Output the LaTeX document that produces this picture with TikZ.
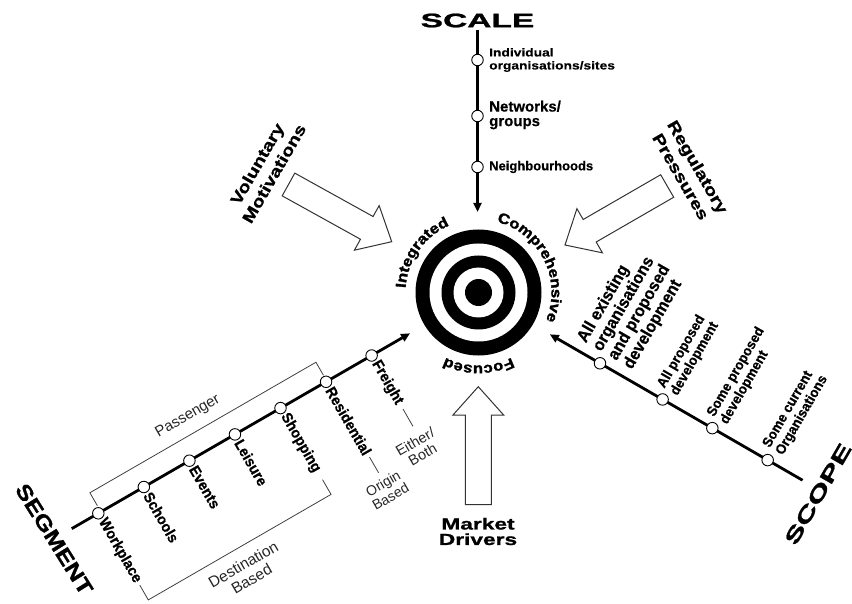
\documentclass[tikz,border=0pt]{standalone}
\usepackage{fontspec}
\setmainfont{Liberation Sans}
\newfontfamily\fScale[FakeStretch=1.72,FakeBold=1.2]{Liberation Sans}
\newfontfamily\fScope[FakeStretch=1.62,FakeBold=1.2]{Liberation Sans}
\newfontfamily\fSeg[FakeStretch=1.22,FakeBold=1.2]{Liberation Sans}
\newfontfamily\fMkt[FakeStretch=1.42,FakeBold=1.2]{Liberation Sans}
\newfontfamily\fForce[FakeStretch=1.25,FakeBold=1]{Liberation Sans}
\newfontfamily\fArc[FakeStretch=1.15,FakeBold=1.8]{Liberation Sans}
\newfontfamily\fSmall[FakeStretch=1.2,FakeBold=0.5]{Liberation Sans}
\newfontfamily\fMid[FakeBold=0.5]{Liberation Sans}
\newfontfamily\fLbl[FakeStretch=0.95,FakeBold=0.7]{Liberation Sans}
\usetikzlibrary{calc,decorations.text,arrows.meta}
\newcommand\fs[2]{\fontsize{#1}{#2}\selectfont}
\tikzset{
  axis/.style={line width=2.8, -{Triangle[length=9,width=8]}},
  dot/.style={circle, draw, fill=white, line width=0.9, inner sep=0, minimum size=11.5},
  brk/.style={line width=0.8, draw=black!75},
  harrow/.style={draw=black!80, line width=1, fill=white, line join=miter},
  lbl/.style={font=\fLbl\bfseries\fs{15}{16}, inner sep=1},
  slbl/.style={font=\fLbl\bfseries\fs{14}{15}, inner sep=1, align=left},
  note/.style={font=\fs{15.5}{16.5}, text=black!85, align=center},
  ring/.style={circle, inner sep=0},
}
\newcommand\hollowarrow[2]{%
  \begin{scope}[shift={#1}, rotate=#2]
    \draw[harrow] (0,0) -- (-28.5,25.5) -- (-28.5,13) -- (-118,13) -- (-118,-13) -- (-28.5,-13) -- (-28.5,-25.5) -- cycle;
  \end{scope}}
\begin{document}
\begin{tikzpicture}[x=1pt,y=1pt]
\useasboundingbox (0,0) rectangle (852,-604);
% ---------- target ----------
\coordinate (T) at (478.5,-292.5);
\node[ring, fill=black, minimum size=126] (ring1) at (T) {};
\node[ring, fill=white, minimum size=98] (ring2) at (T) {};
\node[ring, fill=black, minimum size=74] (ring3) at (T) {};
\node[ring, fill=white, minimum size=50] (ring4) at (T) {};
\node[ring, fill=black, minimum size=27] (bull) at (T) {};
\path[decorate, decoration={text along path, text align=center,
  text={|\fArc\bfseries\fs{14.5}{14.5}|Integrated}}]
  ($(T)+(200:73)$) arc[start angle=200, end angle=90, radius=73];
\path[decorate, decoration={text along path, text align=center,
  text={|\fArc\bfseries\fs{14.5}{14.5}|Comprehensive}}]
  ($(T)+(90:73)$) arc[start angle=90, end angle=-37, radius=73];
\path[decorate, decoration={text along path, text align=center,
  text={|\fArc\bfseries\fs{14.5}{14.5}|Focused}}]
  ($(T)+(330:73)$) arc[start angle=330, end angle=210, radius=73];
% ---------- scale axis ----------
\coordinate (scTop) at (477.5,-30);
\coordinate (scTip) at (477.5,-212);
\draw[axis] (scTop) -- (scTip);
\foreach \n/\y in {1/60,2/116,3/167} \node[dot] (sc\n) at (477.5,-\y) {};
\node[font=\fScale\bfseries\fs{19.5}{20}, inner sep=0] (scale) at (477.5,-20.5) {SCALE};
\node[anchor=west, align=left, inner sep=1, font=\fSmall\bfseries\fs{11.5}{13}] (lInd) at (488,-60) {Individual\\organisations/sites};
\node[anchor=west, align=left, inner sep=1, font=\fMid\bfseries\fs{15}{14.5}] (lNet) at (488,-115) {Networks/\\groups};
\node[anchor=west, align=left, inner sep=1, font=\fMid\bfseries\fs{13}{14}] (lNei) at (488,-167) {Neighbourhoods};
% ---------- segment axis ----------
\coordinate (sgW) at (98.3,-513.3);
\coordinate (sgS) at ($(sgW)+(210:30.7)$);
\coordinate (sgT) at ($(sgW)+(30:360)$);
\draw[axis] (sgS) -- (sgT);
\foreach \k/\t in {0/Workplace,1/Schools,2/Events,3/Leisure,4/Shopping,5/Residential,6/Freight} {
  \node[dot] (sg\k) at ($(sgW)+(30:{52.6*\k})$) {};
  \node[lbl, rotate=-60, anchor=west] (sgl\k) at ($(sg\k)+(-60:6)$) {\t};
}
\draw[brk] ($(sgW)+(30:3)+(120:7)$) -- ($(sgW)+(30:3)+(120:22)$) -- ($(sgW)+(30:264)+(120:22)$) -- ($(sgW)+(30:264)+(120:7)$);
\node[note, rotate=30, font=\fs{15}{16}] (pass) at ($(sgW)+(30:126)+(120:39)$) {Passenger};
\draw[brk] ($(sgW)+(30:0)+(120:-83)$) -- ($(sgW)+(30:0)+(120:-100)$) -- ($(sgW)+(30:211)+(120:-100)$) -- ($(sgW)+(30:211)+(120:-83)$);
\node[note, rotate=30] (dest) at ($(sgW)+(30:100)+(120:-125)$) {Destination\\Based};
\draw[brk] ($(sgW)+(30:263)+(120:-87)$) -- ($(sgW)+(30:263)+(120:-105)$);
\node[note, rotate=30, font=\fs{14}{15}] (orig) at ($(sgW)+(30:261.5)+(120:-124)$) {Origin\\Based};
\draw[brk] ($(sgW)+(30:316)+(120:-62)$) -- ($(sgW)+(30:316)+(120:-82)$);
\node[note, rotate=30, font=\fs{14.5}{15}] (eith) at ($(sgW)+(30:310)+(120:-104)$) {Either/\\Both};
\node[font=\fSeg\bfseries\fs{21}{21}, rotate=-58, inner sep=0] (segment) at (54.2,-539.2) {SEGMENT};
% ---------- scope axis ----------
\coordinate (spC) at (600,-363.3);
\coordinate (spEnd) at ($(spC)+(-30:233.9)$);
\coordinate (spTip) at ($(spC)+(150:58)$);
\draw[axis] (spEnd) -- (spTip);
\foreach \k/\a in {1/0,2/72.3,3/129.7,4/193.6} \node[dot] (sp\k) at ($(spC)+(-30:\a)$) {};
\node[slbl, rotate=60, anchor=west, font=\fLbl\bfseries\fs{17}{17.7}] (spl1) at ($(sp1)+(60:9)$) {All existing\\organisations\\and proposed\\development};
\node[slbl, rotate=60, anchor=west] (spl2) at ($(sp2)+(60:9)$) {All proposed\\development};
\node[slbl, rotate=60, anchor=west] (spl3) at ($(sp3)+(60:9)$) {Some proposed\\development};
\node[slbl, rotate=60, anchor=west] (spl4) at ($(sp4)+(60:10)$) {Some current\\Organisations};
\node[font=\fScope\bfseries\fs{20}{20}, rotate=60, inner sep=0] (scope) at (818,-494) {SCOPE};
% ---------- forces ----------
\coordinate (volTip) at (391.7,-241.7);
\coordinate (regTip) at (565,-245);
\coordinate (mktTip) at (478.3,-386.7);
\hollowarrow{(volTip)}{-29}
\hollowarrow{(regTip)}{210}
\hollowarrow{(mktTip)}{90}
\node[font=\fForce\bfseries\fs{16}{19.5}, rotate=60, align=center] (vol) at (265.5,-168.7) {Voluntary\\Motivations};
\node[font=\fForce\bfseries\fs{16}{19.5}, rotate=-60, align=center] (reg) at (689.4,-171.7) {Regulatory\\Pressures};
\node[font=\fMkt\bfseries\fs{16}{15.5}, align=center] (mkt) at (478,-531.5) {Market\\Drivers};
\end{tikzpicture}
\end{document}
